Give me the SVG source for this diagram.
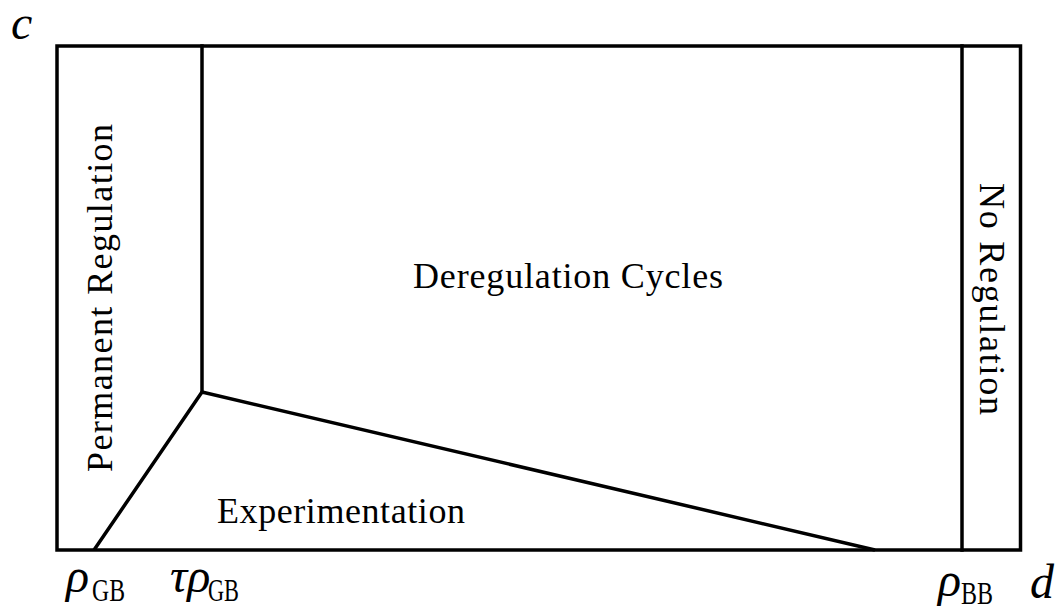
<svg xmlns="http://www.w3.org/2000/svg" width="1058" height="610" viewBox="0 0 1058 610">
<style>
.ln{stroke:#000;stroke-width:3.5;fill:none;stroke-linecap:square}
.lab{font-family:"Liberation Serif","Times New Roman",serif;font-size:36px;fill:#000}
.it{font-family:"Liberation Serif","Times New Roman",serif;font-style:italic;fill:#000}
.sub{font-family:"Liberation Serif","Times New Roman",serif;font-style:normal;font-size:31px;fill:#000}
</style>
<rect width="1058" height="610" fill="#fff"/>
<g id="connectors">
<rect class="ln" x="57" y="46" width="963.5" height="504"/>
<line class="ln" x1="202" y1="46" x2="202" y2="392"/>
<line class="ln" x1="962" y1="46" x2="962" y2="550"/>
<polyline class="ln" style="stroke-linecap:butt;stroke-linejoin:miter" points="94,550 202,392 875,550"/>
</g>
<g id="permanent-regulation"><text class="lab" transform="translate(112,472) rotate(-90)" textLength="348" lengthAdjust="spacing">Permanent Regulation</text></g>
<g id="deregulation-cycles"><text class="lab" x="413" y="288" textLength="310" lengthAdjust="spacing">Deregulation Cycles</text></g>
<g id="experimentation"><text class="lab" x="217" y="523" textLength="248" lengthAdjust="spacing">Experimentation</text></g>
<g id="no-regulation"><text class="lab" transform="translate(980,183) rotate(90)" textLength="232" lengthAdjust="spacing">No Regulation</text></g>
<g id="axis-labels">
<text class="it" x="11" y="39" font-size="48">c</text>
<text class="it" x="1030" y="598" font-size="48">d</text>
<text class="it" x="66" y="592" font-size="48">ρ</text>
<text class="sub" x="92" y="601" textLength="33" lengthAdjust="spacingAndGlyphs">GB</text>
<text class="it" x="170" y="592" font-size="48">τρ</text>
<text class="sub" x="208" y="601" textLength="31" lengthAdjust="spacingAndGlyphs">GB</text>
<text class="it" x="938" y="596" font-size="48">ρ</text>
<text class="sub" x="961" y="604" textLength="32" lengthAdjust="spacingAndGlyphs">BB</text>
</g>
</svg>
